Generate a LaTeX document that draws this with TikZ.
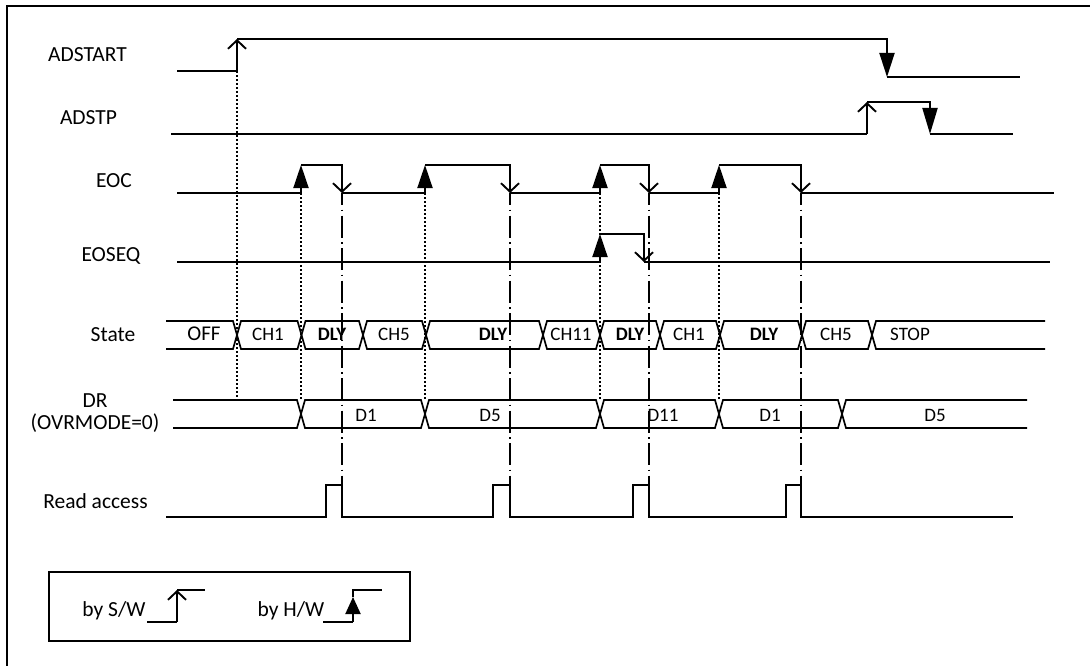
\documentclass[tikz,border=0pt]{standalone}
\usepackage{fontspec}
\setmainfont{Carlito}
\usetikzlibrary{arrows.meta}
\begin{document}
\begin{tikzpicture}[x=1pt,y=-1pt,
  wave/.style={line width=1.9pt},
  hwtip/.style={-{Triangle[length=23pt,width=15pt]}},
  swtip/.style={-{Straight Barb[length=8.5pt,width=18pt]}},
  vdot/.style={line width=1.9pt,dash pattern=on 2pt off 2pt},
  vdashdot/.style={line width=1.9pt,dash pattern=on 22pt off 4.5pt on 1.5pt off 4.5pt,dash phase=10pt},
  bus/.style={line width=1.7pt,line join=miter},
  lbl/.style={inner sep=0pt,anchor=base,font=\fontsize{21.5}{24}\selectfont},
  val/.style={inner sep=0pt,anchor=base,font=\fontsize{19}{22}\selectfont},
  bval/.style={inner sep=0pt,anchor=base,font=\fontsize{19}{22}\selectfont\bfseries}]
\useasboundingbox (0,0) rectangle (1090,666);
% frame
\draw[line width=2pt] (7,666) -- (7,6) -- (1090,6);

% labels
\node[lbl] (lstart) at (87.5,62) {ADSTART};
\node[lbl] (lstp) at (88.5,125) {ADSTP};
\node[lbl] (leoc) at (114,187) {EOC};
\node[lbl] (leoseq) at (111,261) {EOSEQ};
\node[lbl] (lstate) at (113,341) {State};
\node[lbl] (ldr) at (95,407) {DR};
\node[lbl] (lovr) at (95,429) {(OVRMODE=0)};
\node[lbl] (lread) at (95.5,508) {Read access};

% vertical dotted lines
\draw[vdot] (237,71) -- (237,400);
\foreach \x in {301,425,600,719} \draw[vdot] (\x,193) -- (\x,400);
% vertical dash-dot lines
\foreach \x in {342,510,649,801} \draw[vdashdot] (\x,193) -- (\x,485);

% ADSTART
\draw[wave] (177,71) -- (237,71);
\draw[wave,swtip] (237,71) -- (237,39);
\draw[wave,-{Triangle[length=24pt,width=15pt]}] (237,39) -- (887,39) -- (887,77);
\draw[wave] (887,77) -- (1020,77);

% ADSTP
\draw[wave] (171,134) -- (867,134);
\draw[wave,swtip] (867,134) -- (867,102);
\draw[wave,-{Triangle[length=26pt,width=15pt]}] (867,102) -- (930,102) -- (930,134);
\draw[wave] (930,134) -- (1013,134);

% EOC
\draw[wave] (177,193) -- (301,193);
\draw[wave,hwtip] (301,193) -- (301,165);
\draw[wave,swtip] (301,165) -- (342,165) -- (342,193);
\draw[wave] (342,193) -- (425,193);
\draw[wave,hwtip] (425,193) -- (425,165);
\draw[wave,swtip] (425,165) -- (510,165) -- (510,193);
\draw[wave] (510,193) -- (600,193);
\draw[wave,hwtip] (600,193) -- (600,165);
\draw[wave,swtip] (600,165) -- (649,165) -- (649,193);
\draw[wave] (649,193) -- (719,193);
\draw[wave,hwtip] (719,193) -- (719,165);
\draw[wave,swtip] (719,165) -- (801,165) -- (801,193);
\draw[wave] (801,193) -- (1054,193);

% EOSEQ
\draw[wave] (177,262) -- (600,262);
\draw[wave,hwtip] (600,262) -- (600,234);
\draw[wave,swtip] (600,234) -- (644,234) -- (644,262);
\draw[wave] (644,262) -- (1050,262);

% State bus
\draw[bus] (166,321) -- (233,321) -- (237,335) -- (233,349) -- (166,349);
\foreach \a/\b in {237/301.5,301.5/363,363/426,426/543,543/600,600/660,660/720,720/802,802/872}
  \draw[bus] (\a,335) -- (\a+4,321) -- (\b-4,321) -- (\b,335) -- (\b-4,349) -- (\a+4,349) -- cycle;
\draw[bus] (1045,321) -- (876,321) -- (872,335) -- (876,349) -- (1045,349);
\node[val,font=\fontsize{21}{24}\selectfont] (s1) at (204,340) {OFF};
\node[val] (s2) at (268,340) {CH1};
\node[bval] (s3) at (332,340) {DLY};
\node[val] (s4) at (394,340) {CH5};
\node[bval] (s5) at (493,340) {DLY};
\node[val] (s6) at (571,340) {CH11};
\node[bval] (s7) at (630,340) {DLY};
\node[val] (s8) at (689,340) {CH1};
\node[bval] (s9) at (764,340) {DLY};
\node[val] (s10) at (836,340) {CH5};
\node[val] (s11) at (910,340) {STOP};

% DR bus
\draw[bus] (173,400) -- (297,400) -- (301,414) -- (297,428) -- (173,428);
\foreach \a/\b in {301/425,425/600,600/719,719/842}
  \draw[bus] (\a,414) -- (\a+4,400) -- (\b-4,400) -- (\b,414) -- (\b-4,428) -- (\a+4,428) -- cycle;
\draw[bus] (1027,400) -- (846,400) -- (842,414) -- (846,428) -- (1027,428);
\node[val] (d1) at (366,421) {D1};
\node[val] (d2) at (490,421) {D5};
\node[val] (d3) at (663,421) {D11};
\node[val] (d4) at (770,421) {D1};
\node[val] (d5) at (935,421) {D5};

% Read access
\draw[wave] (166,517) -- (326,517) -- (326,485) -- (342,485) -- (342,517)
  -- (493,517) -- (493,485) -- (510,485) -- (510,517)
  -- (633,517) -- (633,485) -- (649,485) -- (649,517)
  -- (786,517) -- (786,485) -- (801,485) -- (801,517) -- (1013,517);

% legend
\draw[line width=1.8pt] (49,572) rectangle (410,641);
\node[lbl] (lsw) at (114,616) {by S/W};
\node[lbl] (lhw) at (291,616) {by H/W};
\draw[wave] (147,622) -- (177,622);
\draw[wave,swtip] (177,622) -- (177,590);
\draw[wave] (177,590) -- (205,590);
\draw[wave] (323,622) -- (353,622);
\draw[wave,-{Triangle[length=17pt,width=15pt]}] (353,622) -- (353,597);
\draw[wave] (353,597) -- (353,590) -- (382,590);
\end{tikzpicture}
\end{document}
